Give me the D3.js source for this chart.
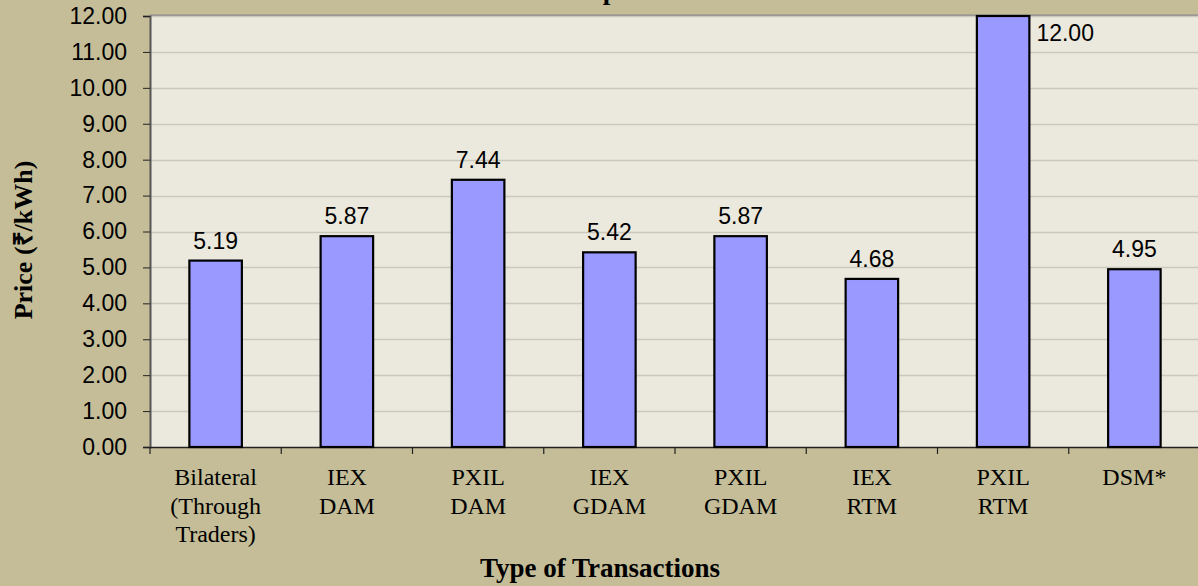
<!DOCTYPE html>
<html><head><meta charset="utf-8">
<script src="https://cdn.jsdelivr.net/npm/d3@7/dist/d3.min.js"></script>
<style>body{margin:0;background:#C4BD97;}svg{display:block;}</style>
</head><body>
<svg id="c" width="1198" height="586"></svg>
<script>
const categories = [
  ["Bilateral","(Through","Traders)"],
  ["IEX","DAM"],
  ["PXIL","DAM"],
  ["IEX","GDAM"],
  ["PXIL","GDAM"],
  ["IEX","RTM"],
  ["PXIL","RTM"],
  ["DSM*"]
];
const values = [5.19, 5.87, 7.44, 5.42, 5.87, 4.68, 12.00, 4.95];
const yTicks = [0,1,2,3,4,5,6,7,8,9,10,11,12];
const titleText = "September 2021";
const xTitle = "Type of Transactions";
const yTitle = "Price (₹/kWh)";

const svg = d3.select("#c");
const W = 1198, H = 586;
const m = {left:150, top:16, right:1200, bottom:447};
const sans = "Liberation Sans, Arial, sans-serif";
const serif = "Liberation Serif, Times New Roman, serif";

svg.append("rect").attr("width",W).attr("height",H).attr("fill","#C4BD97");

const x = d3.scaleBand().domain(d3.range(categories.length)).range([m.left, m.right]).paddingInner(0.6).paddingOuter(0.3);
const xb = d3.scaleBand().domain(d3.range(categories.length)).range([m.left, m.right]);
const y = d3.scaleLinear().domain([0,12]).range([m.bottom, m.top]);

// plot area
svg.append("rect").attr("x",m.left).attr("y",m.top).attr("width",m.right-m.left).attr("height",m.bottom-m.top).attr("fill","#EBE9DD");
svg.append("line").attr("x1",m.left).attr("x2",m.right).attr("y1",m.top-0.5).attr("y2",m.top-0.5).attr("stroke","#8a8a8a").attr("stroke-width",2);

// gridlines
svg.append("g").selectAll("line").data(yTicks.slice(1)).join("line")
  .attr("x1",m.left).attr("x2",m.right)
  .attr("y1",d=>Math.round(y(d))+0.5).attr("y2",d=>Math.round(y(d))+0.5)
  .attr("stroke","#CBC8BE").attr("stroke-width",1.5);

// y axis
const yAxis = d3.axisLeft(y).tickValues(yTicks).tickFormat(d3.format(".2f")).tickSize(7).tickPadding(16);
const gy = svg.append("g").attr("transform",`translate(${m.left},0)`).call(yAxis);
gy.select(".domain").attr("stroke","#555").attr("stroke-width",2);
gy.selectAll(".tick line").attr("stroke","#222");
gy.selectAll(".tick text").attr("font-family",sans).attr("font-size",23).attr("fill","#000");

// x axis
const gx = svg.append("g").attr("transform",`translate(0,${m.bottom})`);
gx.append("line").attr("x1",m.left).attr("x2",m.right).attr("y1",0.5).attr("y2",0.5).attr("stroke","#222").attr("stroke-width",1.5);
gx.selectAll("line.t").data(d3.range(categories.length+1)).join("line").attr("class","t")
  .attr("x1",d=>m.left+d*xb.step()).attr("x2",d=>m.left+d*xb.step())
  .attr("y1",0).attr("y2",7).attr("stroke","#222").attr("stroke-width",1.2);
const xl = gx.selectAll("text").data(categories).join("text")
  .attr("text-anchor","middle").attr("font-family",serif).attr("font-size",24).attr("fill","#000")
  .attr("transform",(d,i)=>`translate(${xb(i)+xb.bandwidth()/2},38)`);
xl.selectAll("tspan").data(d=>d).join("tspan").attr("x",0).attr("dy",(d,i)=>i===0?0:28.5).text(d=>d);

// bars
svg.append("g").selectAll("rect").data(values).join("rect")
  .attr("x",(d,i)=>x(i)).attr("width",x.bandwidth())
  .attr("y",d=>y(d)).attr("height",d=>m.bottom-y(d))
  .attr("fill","#9999FF").attr("stroke","#000").attr("stroke-width",2.2);

// labels
svg.append("g").selectAll("text").data(values).join("text")
  .attr("font-family",sans).attr("font-size",23).attr("fill","#000")
  .attr("text-anchor",d=>d>=12?"start":"middle")
  .attr("x",(d,i)=>d>=12? x(i)+x.bandwidth()+7 : x(i)+x.bandwidth()/2)
  .attr("y",d=>d>=12? y(d)+25 : y(d)-12)
  .text(d=>d.toFixed(2));

// titles
svg.append("text").attr("x",668).attr("y",-1).attr("text-anchor","middle")
  .attr("font-family",serif).attr("font-weight","bold").attr("font-size",27).text(titleText);
svg.append("text").attr("x",600).attr("y",577).attr("text-anchor","middle")
  .attr("font-family",serif).attr("font-weight","bold").attr("font-size",27).text(xTitle);
svg.append("text").attr("transform","translate(32,240) rotate(-90)").attr("text-anchor","middle")
  .attr("font-family",serif).attr("font-weight","bold").attr("font-size",26).text(yTitle);
</script>
</body></html>
